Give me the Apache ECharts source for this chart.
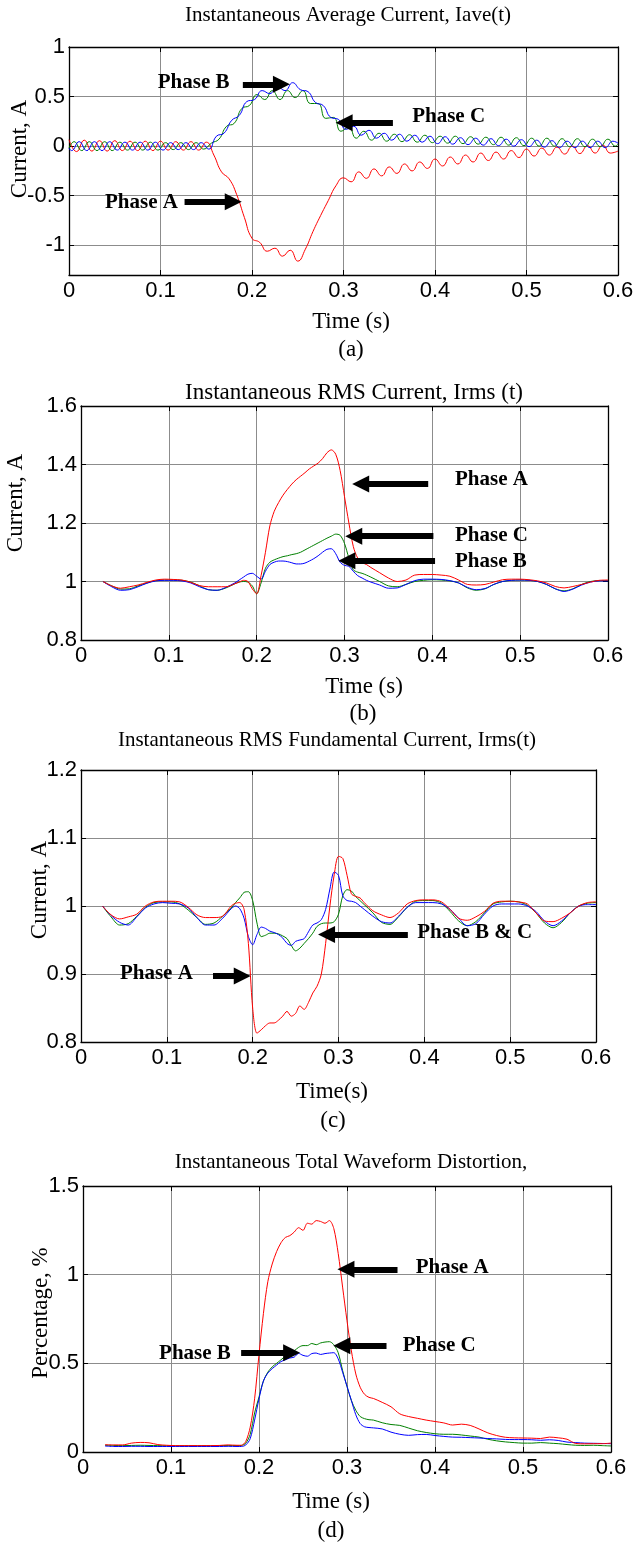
<!DOCTYPE html>
<html><head><meta charset="utf-8">
<script src="https://cdn.jsdelivr.net/npm/echarts@6/dist/echarts.min.js"></script>
<style>html,body{margin:0;padding:0;background:#fff}#c{width:633px;height:1542px}</style>
</head><body><div id="c"></div>
<script>
// ---------- Panel (a): Instantaneous Average Current ----------
const aTimeRed = [0,0.0083,0.0167,0.025,0.0333,0.0417,0.05,0.0583,0.0667,0.075,0.0833,0.0917,0.1,0.1083,0.1167,0.125,0.1333,0.1417,0.15,0.1583,0.1667,0.175,0.1833,0.1917,0.2,0.2083,0.2167,0.225,0.2333,0.2417,0.25,0.2583,0.2667,0.275,0.2833,0.2917,0.3,0.3083,0.3167,0.325,0.3333,0.3417,0.35,0.3583,0.3667,0.375,0.3833,0.3917,0.4,0.4083,0.4167,0.425,0.4333,0.4417,0.45,0.4583,0.4667,0.475,0.4833,0.4917,0.5,0.5083,0.5167,0.525,0.5333,0.5417,0.55,0.5583,0.5667,0.575,0.5833,0.5917,0.6];
const aRed = [0.065,-0.055,0.06,-0.05,0.055,-0.05,0.055,-0.045,0.05,-0.045,0.05,-0.045,0.05,-0.04,0.045,-0.04,0.045,-0.04,0.04,
  -0.09,-0.26,-0.33,-0.49,-0.72,-0.93,-0.97,-1.06,-1.03,-1.11,-1.05,-1.16,-1.04,-0.86,-0.70,-0.55,-0.40,-0.32,
  -0.36,-0.26,-0.325,-0.23,-0.30,-0.21,-0.275,-0.18,-0.25,-0.16,-0.225,-0.13,-0.20,-0.11,-0.18,-0.09,-0.16,-0.07,-0.145,-0.06,-0.13,-0.045,-0.115,-0.03,-0.10,-0.02,-0.09,-0.01,-0.08,0.0,-0.075,0.005,-0.07,0.01,-0.07,-0.05];
const aTimeGreen = [0,0.0056,0.0139,0.0222,0.0306,0.0389,0.0472,0.0556,0.0639,0.0722,0.0806,0.0889,0.0972,0.1056,0.1139,0.1222,0.1306,0.1389,0.1472,0.1556,0.1639,0.1722,0.1806,0.1889,0.1972,0.2056,0.2139,0.2222,0.2306,0.2389,0.2472,0.2556,0.2639,0.2722,0.2806,0.2889,0.2972,0.3056,0.3139,0.3222,0.3306,0.3389,0.3472,0.3556,0.3639,0.3722,0.3806,0.3889,0.3972,0.4056,0.4139,0.4222,0.4306,0.4389,0.4472,0.4556,0.4639,0.4722,0.4806,0.4889,0.4972,0.5056,0.5139,0.5222,0.5306,0.5389,0.5472,0.5556,0.5639,0.5722,0.5806,0.5889,0.5972,0.6];
const aGreen = [-0.02,0.045,-0.045,0.045,-0.045,0.045,-0.045,0.04,-0.04,0.04,-0.04,0.04,-0.04,0.035,-0.035,0.035,-0.035,0.035,-0.03,
  0.03,0.07,0.2,0.23,0.38,0.41,0.52,0.47,0.56,0.47,0.56,0.49,0.56,0.43,0.43,0.28,0.29,0.15,
  0.19,0.08,0.15,0.06,0.13,0.05,0.12,0.045,0.115,0.04,0.11,0.035,0.1,0.03,0.1,0.025,0.095,0.02,0.09,0.015,0.09,0.01,0.085,0.005,0.08,0.0,0.08,0.0,0.075,-0.005,0.075,-0.005,0.07,-0.005,0.07,0.0,0.02];
const aTimeBlue = [0,0.0028,0.0111,0.0194,0.0278,0.0361,0.0444,0.0528,0.0611,0.0694,0.0778,0.0861,0.0944,0.1028,0.1111,0.1194,0.1278,0.1361,0.1444,0.1528,0.1611,0.1694,0.1778,0.1861,0.1944,0.2028,0.2111,0.2194,0.2278,0.2361,0.2444,0.2528,0.2611,0.2694,0.2778,0.2861,0.2944,0.3028,0.3111,0.3194,0.3278,0.3361,0.3444,0.3528,0.3611,0.3694,0.3778,0.3861,0.3944,0.4028,0.4111,0.4194,0.4278,0.4361,0.4444,0.4528,0.4611,0.4694,0.4778,0.4861,0.4944,0.5028,0.5111,0.5194,0.5278,0.5361,0.5444,0.5528,0.5611,0.5694,0.5778,0.5861,0.5944,0.6];
const aBlue = [-0.02,-0.045,0.045,-0.045,0.045,-0.045,0.045,-0.04,0.04,-0.04,0.04,-0.04,0.04,-0.04,0.035,-0.035,0.035,-0.035,0.035,-0.03,
  0.1,0.13,0.26,0.31,0.45,0.47,0.56,0.53,0.60,0.56,0.64,0.57,0.55,0.44,0.41,0.29,0.27,
  0.17,0.20,0.11,0.16,0.08,0.13,0.06,0.12,0.05,0.11,0.04,0.10,0.025,0.095,0.02,0.085,0.015,0.08,0.01,0.075,0.005,0.07,0.0,0.065,-0.005,0.06,-0.01,0.055,-0.015,0.05,-0.015,0.05,-0.015,0.05,-0.015,0.05,0.03];
const aYTicks = [-1,-0.5,0,0.5,1];
const aArrows = [[0.190,0.623,0.2322,0.623],[0.354,0.236,0.3007,0.236],[0.1263,-0.562,0.1795,-0.562]];
const aNotes = [['Phase B',0.1754,0.646,'end'],['Phase C',0.375,0.297,'start'],['Phase A',0.119,-0.572,'end']];

// ---------- Panel (b): Instantaneous RMS Current ----------
const bTime = [0.025,0.035,0.045,0.055,0.065,0.075,0.085,0.095,0.105,0.115,0.125,0.135,0.145,0.155,0.165,0.175,
  0.18,0.185,0.19,0.195,0.2,0.205,0.21,0.215,0.22,0.225,0.23,0.235,0.24,0.245,0.25,0.255,0.26,0.265,0.27,0.275,0.28,0.285,0.29,0.295,0.3,0.305,0.31,0.315,0.32,0.325,0.33,
  0.34,0.35,0.36,0.37,0.38,0.39,0.4,0.41,0.42,0.43,0.44,0.45,0.46,0.47,0.48,0.49,0.5,0.51,0.52,0.53,0.54,0.55,0.56,0.57,0.58,0.59,0.6];
const bRed = [1.0,0.985,0.977,0.982,0.988,0.997,1.005,1.008,1.007,1.005,0.997,0.986,0.982,0.982,0.982,0.992,
  0.998,1.004,1.0,0.975,0.958,1.02,1.1,1.19,1.24,1.27,1.295,1.315,1.333,1.348,1.36,1.372,1.385,1.395,1.405,1.42,1.44,1.45,1.435,1.38,1.29,1.20,1.12,1.08,1.065,1.058,1.048,
  1.03,1.012,1.0,1.005,1.022,1.024,1.024,1.022,1.018,1.005,0.99,0.988,0.99,0.998,1.006,1.008,1.008,1.006,1.002,0.995,0.983,0.978,0.983,0.99,0.998,1.004,1.005];
const bGreen = [1.0,0.985,0.974,0.975,0.985,0.995,1.003,1.005,1.005,1.004,0.998,0.985,0.972,0.97,0.978,0.992,
  0.998,1.0,0.998,0.985,0.958,0.995,1.045,1.066,1.074,1.08,1.085,1.088,1.092,1.095,1.1,1.108,1.116,1.124,1.132,1.14,1.148,1.155,1.162,1.158,1.13,1.08,1.04,1.032,1.028,1.022,1.015,
  1.0,0.985,0.982,0.99,1.0,1.004,1.006,1.005,1.002,0.995,0.978,0.97,0.975,0.99,1.0,1.004,1.005,1.004,1.0,0.99,0.975,0.968,0.975,0.99,1.0,1.003,1.003];
const bBlue = [1.0,0.982,0.97,0.972,0.982,0.994,1.002,1.004,1.004,1.002,0.995,0.982,0.972,0.97,0.98,0.995,
  1.005,1.015,1.025,1.028,1.018,1.008,1.035,1.058,1.066,1.07,1.07,1.068,1.064,1.06,1.06,1.063,1.07,1.078,1.088,1.1,1.11,1.112,1.095,1.066,1.055,1.052,1.035,1.02,1.012,1.004,0.998,
  0.988,0.977,0.978,0.99,1.003,1.008,1.008,1.007,1.003,0.995,0.98,0.972,0.976,0.99,1.0,1.004,1.005,1.004,1.0,0.99,0.975,0.966,0.974,0.988,0.998,1.002,1.002];
const bArrows = [[0.3953,1.333,0.3184,1.333],[0.4012,1.155,0.3105,1.155],[0.4031,1.071,0.3027,1.071]];
const bNotes = [['Phase A',0.4258,1.350,'start'],['Phase C',0.4258,1.158,'start'],['Phase B',0.4258,1.068,'start']];

// ---------- Panel (c): Instantaneous RMS Fundamental Current ----------
const cTime = [0.025,0.035,0.045,0.055,0.065,0.075,0.085,0.095,0.105,0.115,0.125,0.135,0.145,0.155,0.165,0.175,
  0.18,0.185,0.19,0.195,0.2,0.205,0.21,0.215,0.22,0.225,0.23,0.235,0.24,0.245,0.25,0.255,0.26,0.265,0.27,0.275,0.28,0.285,0.29,0.295,0.3,0.305,0.31,0.315,0.32,0.325,0.33,
  0.34,0.35,0.36,0.37,0.38,0.39,0.4,0.41,0.42,0.43,0.44,0.45,0.46,0.47,0.48,0.49,0.5,0.51,0.52,0.53,0.54,0.55,0.56,0.57,0.58,0.59,0.6];
const cRed = [1.0,0.987,0.981,0.984,0.988,1.0,1.006,1.007,1.007,1.006,0.998,0.987,0.983,0.983,0.985,1.0,
  1.004,1.005,0.995,0.945,0.85,0.813,0.818,0.824,0.828,0.828,0.832,0.838,0.845,0.838,0.842,0.853,0.848,0.858,0.872,0.882,0.9,0.945,1.0,1.046,1.073,1.07,1.045,1.018,1.014,1.012,1.005,
  0.993,0.987,0.983,0.99,1.003,1.008,1.009,1.009,1.006,0.995,0.982,0.979,0.984,0.992,1.004,1.007,1.007,1.006,1.003,0.99,0.978,0.977,0.982,0.99,1.0,1.005,1.006];
const cGreen = [1.0,0.984,0.972,0.974,0.985,0.998,1.005,1.006,1.006,1.003,0.994,0.983,0.973,0.975,0.985,0.997,
  1.005,1.012,1.02,1.021,1.008,0.975,0.955,0.957,0.96,0.96,0.959,0.956,0.952,0.942,0.934,0.938,0.945,0.952,0.96,0.97,0.974,0.975,0.975,0.977,0.988,1.015,1.024,1.022,1.014,1.008,1.002,
  0.99,0.976,0.973,0.984,0.998,1.007,1.008,1.008,1.004,0.992,0.978,0.971,0.977,0.99,1.003,1.006,1.007,1.006,1.001,0.99,0.975,0.968,0.976,0.99,1.0,1.004,1.005];
const cBlue = [1.0,0.986,0.976,0.972,0.984,0.997,1.003,1.005,1.004,1.003,0.997,0.983,0.972,0.972,0.982,0.996,
  1.0,0.996,0.982,0.955,0.943,0.958,0.969,0.967,0.963,0.961,0.958,0.953,0.945,0.942,0.948,0.95,0.952,0.962,0.972,0.975,0.98,0.995,1.025,1.05,1.045,1.015,1.008,1.007,1.005,1.0,0.995,
  0.985,0.977,0.975,0.985,0.998,1.005,1.005,1.005,1.003,0.995,0.982,0.971,0.974,0.988,1.0,1.003,1.003,1.003,1.0,0.992,0.978,0.971,0.978,0.99,1.0,1.002,1.002];
const cArrows = [[0.3808,0.958,0.2861,0.958],[0.1538,0.897,0.1879,0.897]];
const cNotes = [['Phase B & C',0.3918,0.961,'start'],['Phase A',0.1303,0.900,'end']];

// ---------- Panel (d): Instantaneous Total Waveform Distortion ----------
const dTime = [0.025,0.035,0.045,0.055,0.065,0.075,0.085,0.095,0.105,0.115,0.125,0.135,0.145,0.155,0.165,0.175,
  0.18,0.185,0.19,0.195,0.2,0.205,0.21,0.215,0.22,0.225,0.23,0.235,0.24,0.245,0.25,0.255,0.26,0.265,0.27,0.275,0.28,0.285,0.29,0.295,0.3,0.305,0.31,0.315,0.32,0.325,0.33,
  0.34,0.35,0.36,0.37,0.38,0.39,0.4,0.41,0.42,0.43,0.44,0.45,0.46,0.47,0.48,0.49,0.5,0.51,0.52,0.53,0.54,0.55,0.56,0.57,0.58,0.59,0.6];
const dRed = [0.041,0.04,0.04,0.05,0.054,0.052,0.042,0.038,0.036,0.036,0.036,0.036,0.036,0.037,0.04,0.038,
  0.038,0.06,0.14,0.3,0.55,0.78,0.96,1.06,1.13,1.18,1.21,1.22,1.24,1.265,1.25,1.29,1.285,1.305,1.3,1.29,1.305,1.26,1.12,0.93,0.74,0.57,0.44,0.365,0.325,0.308,0.302,
  0.28,0.255,0.215,0.2,0.19,0.18,0.172,0.164,0.152,0.157,0.15,0.13,0.108,0.093,0.083,0.08,0.079,0.078,0.076,0.084,0.08,0.072,0.048,0.046,0.047,0.047,0.05];
const dGreen = [0.038,0.037,0.036,0.037,0.038,0.037,0.036,0.035,0.035,0.035,0.035,0.035,0.035,0.036,0.037,0.036,
  0.037,0.05,0.1,0.22,0.31,0.4,0.45,0.48,0.5,0.52,0.54,0.55,0.57,0.59,0.6,0.6,0.612,0.605,0.615,0.62,0.622,0.605,0.56,0.46,0.37,0.29,0.235,0.2,0.188,0.182,0.18,
  0.165,0.155,0.15,0.135,0.12,0.11,0.103,0.1,0.1,0.096,0.09,0.084,0.072,0.063,0.057,0.053,0.05,0.05,0.053,0.05,0.047,0.042,0.038,0.037,0.038,0.036,0.034];
const dBlue = [0.034,0.031,0.031,0.032,0.032,0.031,0.031,0.031,0.031,0.031,0.031,0.031,0.031,0.031,0.032,0.031,
  0.031,0.04,0.075,0.18,0.3,0.4,0.445,0.47,0.49,0.51,0.52,0.53,0.535,0.556,0.545,0.54,0.555,0.558,0.55,0.555,0.558,0.56,0.525,0.45,0.37,0.29,0.21,0.16,0.142,0.138,0.136,
  0.13,0.112,0.1,0.094,0.098,0.099,0.093,0.088,0.084,0.083,0.081,0.079,0.076,0.074,0.071,0.07,0.07,0.069,0.066,0.069,0.065,0.056,0.053,0.05,0.049,0.048,0.047];
const dArrows = [[0.3574,1.030,0.2988,1.030],[0.3449,0.599,0.2941,0.599],[0.1797,0.559,0.2371,0.559]];
const dNotes = [['Phase A',0.378,1.041,'start'],['Phase C',0.3633,0.599,'start'],['Phase B',0.168,0.556,'end']];

// ---------- Text ----------
const titles = ['Instantaneous Average Current, Iave(t)','Instantaneous RMS Current, Irms (t)','Instantaneous RMS Fundamental Current, Irms(t)','Instantaneous Total Waveform Distortion,'];
const xNames = ['Time (s)','Time (s)','Time(s)','Time (s)'];
const yNames = ['Current, A','Current, A','Current, A','Percentage, %'];
const subLabels = ['(a)','(b)','(c)','(d)'];
const xTicks = {min:0, max:0.6, interval:0.1};

// ---------- Layout ----------
const SERIF = 'Liberation Serif', SANS = 'Liberation Sans';
const RED = '#ff0000', GREEN = '#008000', BLUE = '#0000ff';
const layout = [
  {grid:{left:69,top:47,width:549,height:228}, title:[348,15,21], xName:[351,322], sub:[351,350], yName:[19.5,149]},
  {grid:{left:81,top:406,width:527,height:234}, title:[354,393,23], xName:[364,687], sub:[363,714], yName:[16,503]},
  {grid:{left:81,top:770,width:515,height:272}, title:[327,740,21], xName:[332,1092], sub:[333,1121], yName:[40,890]},
  {grid:{left:83,top:1186,width:528,height:266}, title:[351,1162,21], xName:[331,1502], sub:[331,1531], yName:[41,1313]}
];
const yRanges = [
  {min:-1.3, max:1, custom:aYTicks},
  {min:0.8, max:1.6, interval:0.2},
  {min:0.8, max:1.2, interval:0.1},
  {min:0, max:1.5, interval:0.5}
];
const panelSeries = [
  {lines:[[aTimeRed,aRed,RED],[aTimeGreen,aGreen,GREEN],[aTimeBlue,aBlue,BLUE]], smooth:0.5, arrows:aArrows, notes:aNotes},
  {lines:[[bTime,bGreen,GREEN],[bTime,bBlue,BLUE],[bTime,bRed,RED]], smooth:0.3, arrows:bArrows, notes:bNotes},
  {lines:[[cTime,cGreen,GREEN],[cTime,cBlue,BLUE],[cTime,cRed,RED]], smooth:0.3, arrows:cArrows, notes:cNotes},
  {lines:[[dTime,dGreen,GREEN],[dTime,dBlue,BLUE],[dTime,dRed,RED]], smooth:0.3, arrows:dArrows, notes:dNotes}
];

const zip = (t, v) => t.map((x, i) => [x, v[i]]);
const grids = [], xAxes = [], yAxes = [], series = [], graphic = [];
const axisLineStyle = {color:'#000', width:1.3};
const tickStyle = {show:true, inside:true, length:5, lineStyle:{color:'#000', width:1}};
const gridLine = {show:true, lineStyle:{color:'#8c8c8c', width:1, type:'solid'}};
const TICK_FONT = 22;

layout.forEach((L, i) => {
  grids.push(Object.assign({containLabel:false, outerBoundsMode:'none'}, L.grid));
  const xBase = {type:'value', gridIndex:i, min:xTicks.min, max:xTicks.max, interval:xTicks.interval};
  xAxes.push(Object.assign({}, xBase, {position:'bottom',
    axisLine:{show:true, onZero:false, lineStyle:axisLineStyle}, axisTick:tickStyle,
    axisLabel:{show:true, color:'#000', fontFamily:SANS, fontSize:TICK_FONT, margin:5},
    splitLine:gridLine}));
  xAxes.push(Object.assign({}, xBase, {position:'top',
    axisLine:{show:true, onZero:false, lineStyle:axisLineStyle}, axisTick:tickStyle,
    axisLabel:{show:false}, splitLine:{show:false}}));
  const R = yRanges[i];
  const yBase = {type:'value', gridIndex:i, min:R.min, max:R.max};
  if (R.interval) yBase.interval = R.interval;
  const lt = Object.assign({}, tickStyle), lb = {show:true, color:'#000', fontFamily:SANS, fontSize:TICK_FONT, margin:4};
  if (R.custom) { lt.customValues = R.custom; lb.customValues = R.custom; }
  yAxes.push(Object.assign({}, yBase, {position:'left',
    axisLine:{show:true, onZero:false, lineStyle:axisLineStyle}, axisTick:lt, axisLabel:lb, splitLine:gridLine}));
  yAxes.push(Object.assign({}, yBase, {position:'right',
    axisLine:{show:true, onZero:false, lineStyle:axisLineStyle}, axisTick:lt,
    axisLabel:{show:false}, splitLine:{show:false}}));

  const P = panelSeries[i];
  P.lines.forEach((ln, k) => {
    const s = {type:'line', xAxisIndex:2*i, yAxisIndex:2*i, data:zip(ln[0], ln[1]),
      showSymbol:false, symbol:'none', smooth:P.smooth, lineStyle:{color:ln[2], width:1}, itemStyle:{color:ln[2]},
      silent:true, animation:false, z:2};
    if (k === P.lines.length - 1) {
      s.markLine = {silent:true, animation:false, symbol:['none','triangle'], symbolSize:[17,17],
        lineStyle:{color:'#000', width:6, type:'solid'}, itemStyle:{color:'#000'}, label:{show:false}, emphasis:{disabled:true},
        data:P.arrows.map(a => [{coord:[a[0],a[1]]},{coord:[a[2],a[3]]}])};
      s.markPoint = {silent:true, animation:false, symbol:'circle', symbolSize:0,
        label:{show:true, formatter:'{b}', color:'#000', fontFamily:SERIF, fontWeight:'bold', fontSize:21, distance:0},
        data:P.notes.map(n => ({name:n[0], coord:[n[1],n[2]], label:{position: n[3]==='end' ? 'left' : 'right'}}))};
    }
    series.push(s);
  });

  const txt = (x, y, text, size, rot) => ({type:'text', x:x, y:y, rotation:rot||0, silent:true,
    style:{text:text, fontFamily:SERIF, fontSize:size, fill:'#000', align:'center', verticalAlign:'middle'}});
  graphic.push(txt(L.title[0], L.title[1], titles[i], L.title[2]));
  graphic.push(txt(L.xName[0], L.xName[1], xNames[i], 23));
  graphic.push(txt(L.sub[0], L.sub[1], subLabels[i], 23));
  graphic.push(txt(L.yName[0], L.yName[1], yNames[i], 23, Math.PI/2));
});

const chart = echarts.init(document.getElementById('c'));
chart.setOption({animation:false, backgroundColor:'#fff', grid:grids, xAxis:xAxes, yAxis:yAxes, series:series, graphic:graphic});
</script></body></html>
